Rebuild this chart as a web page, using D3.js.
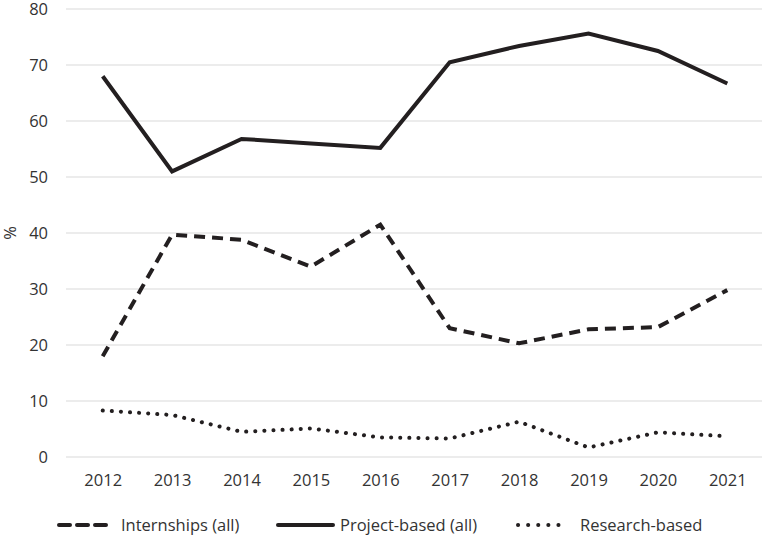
<!DOCTYPE html>
<html>
<head>
<meta charset="utf-8">
<script src="https://cdn.jsdelivr.net/npm/d3@7"></script>
<style>
  body { margin: 0; background: #fff; }
  text { font-family: "Open Sans", sans-serif; fill: #333; }
</style>
</head>
<body>
<div id="chart"></div>
<script>
// data
var years = ["2012", "2013", "2014", "2015", "2016", "2017", "2018", "2019", "2020", "2021"];
var internships = [18.0, 39.7, 38.8, 34.0, 41.5, 23.0, 20.3, 22.8, 23.2, 29.8];
var projectBased = [68.0, 51.0, 56.8, 56.0, 55.2, 70.5, 73.4, 75.6, 72.5, 66.7];
var researchBased = [8.3, 7.5, 4.5, 5.1, 3.5, 3.3, 6.3, 1.7, 4.4, 3.7];
var yTicks = [0, 10, 20, 30, 40, 50, 60, 70, 80];
var seriesNames = ["Internships (all)", "Project-based (all)", "Research-based"];

var width = 764, height = 537;
var plotLeft = 68, plotRight = 762, plotTop = 9, plotBottom = 457;
var fontSize = "16.5px";

var svg = d3.select("#chart").append("svg")
    .attr("width", width)
    .attr("height", height);

var x = d3.scalePoint().domain(years).range([plotLeft, plotRight]).padding(0.5);
var y = d3.scaleLinear().domain([0, 80]).range([plotBottom, plotTop]);

// gridlines
svg.append("g").selectAll("line")
    .data(yTicks)
  .enter().append("line")
    .attr("x1", plotLeft - 2)
    .attr("x2", plotRight)
    .attr("y1", function(d) { return y(d); })
    .attr("y2", function(d) { return y(d); })
    .style("stroke", "#d9d9d9")
    .style("stroke-width", 1);

// y axis labels
var yAxis = svg.append("g")
    .attr("transform", "translate(" + (plotLeft - 20) + ",0)")
    .call(d3.axisLeft(y).tickValues(yTicks).tickSize(0).tickPadding(0));
yAxis.select(".domain").remove();
yAxis.selectAll("text").style("font-size", fontSize).style("fill", "#333")
    .style("font-family", "'Open Sans', sans-serif");

// x axis labels
var xAxis = svg.append("g")
    .attr("transform", "translate(0," + (plotBottom + 17) + ")")
    .call(d3.axisBottom(x).tickSize(0).tickPadding(0));
xAxis.select(".domain").remove();
xAxis.selectAll("text").style("font-size", fontSize).style("fill", "#333")
    .style("font-family", "'Open Sans', sans-serif");

svg.append("text")
    .attr("transform", "translate(16," + ((plotTop + plotBottom) / 2) + ") rotate(-90)")
    .attr("text-anchor", "middle")
    .style("font-size", fontSize)
    .text("%");

var styles = [
    { dash: "11,7", cap: "butt" },
    { dash: null, cap: "butt" },
    { dash: "0.1,9", cap: "round" }
];

var allSeries = [internships, projectBased, researchBased];

var line = d3.line()
    .x(function(d, i) { return x(years[i]); })
    .y(function(d) { return y(d); });

allSeries.forEach(function(s, k) {
    svg.append("path")
        .datum(s)
        .attr("d", line)
        .style("fill", "none")
        .style("stroke", "#231f20")
        .style("stroke-width", 4)
        .style("stroke-linejoin", "miter")
        .style("stroke-linecap", styles[k].cap)
        .style("stroke-dasharray", styles[k].dash);
});

// legend
var legendY = 525;
var legendItems = [
    { x1: 59, x2: 107, tx: 121 },
    { x1: 278, x2: 333, tx: 340 },
    { x1: 518, x2: 568, tx: 580 }
];
legendItems.forEach(function(it, k) {
    svg.append("line")
        .attr("x1", it.x1).attr("x2", it.x2)
        .attr("y1", legendY).attr("y2", legendY)
        .style("stroke", "#231f20")
        .style("stroke-width", 4)
        .style("stroke-linecap", "round")
        .style("stroke-dasharray", k == 0 ? "11,7" : (k == 2 ? "0.1,10" : null));
    svg.append("text")
        .attr("x", it.tx)
        .attr("y", legendY + 6)
        .style("font-size", fontSize)
        .text(seriesNames[k]);
});
</script>
</body>
</html>
